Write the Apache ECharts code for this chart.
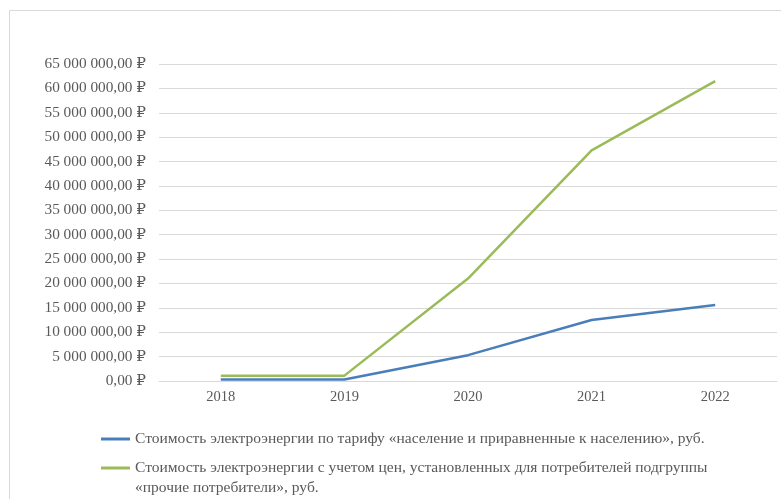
<!DOCTYPE html>
<html>
<head>
<meta charset="utf-8">
<script src="https://cdn.jsdelivr.net/npm/echarts@6/dist/echarts.min.js"></script>
<style>
  html, body { margin: 0; padding: 0; background: #ffffff; }
  #chart { width: 781px; height: 499px; }
</style>
</head>
<body>
<div id="chart"></div>
<script>
// Годы
const years = ['2018', '2019', '2020', '2021', '2022'];

// Стоимость по тарифу «население и приравненные к населению», руб.
const costHousehold = [300000, 300000, 5300000, 12500000, 15600000];

// Стоимость по ценам для подгруппы «прочие потребители», руб.
const costOther = [1100000, 1100000, 21000000, 47300000, 61500000];

const nameHousehold = 'Стоимость электроэнергии по тарифу «население и приравненные к населению», руб.';
const nameOther = 'Стоимость электроэнергии с учетом цен, установленных для потребителей подгруппы «прочие потребители», руб.';
// The legend text is centred on its icon, so an empty leading line keeps
// the first line of the wrapped caption level with the green swatch.
const nameOtherWrapped = ' \nСтоимость электроэнергии с учетом цен, установленных для потребителей подгруппы\n«прочие потребители», руб.';

const FONT = '"Liberation Serif", "Times New Roman", "DejaVu Serif", serif';
const TEXT = '#595959';
const GRID = '#d9d9d9';

function rub(v) {
  const whole = Math.round(v).toString().replace(/\B(?=(\d{3})+(?!\d))/g, ' ');
  return whole + ',00 \u20BD';
}

const chart = echarts.init(document.getElementById('chart'), null, { renderer: 'canvas' });

const legendText = { color: TEXT, fontFamily: FONT, fontSize: 15.5, lineHeight: 20 };

chart.setOption({
  backgroundColor: '#ffffff',
  animation: false,
  graphic: [{
    type: 'rect',
    shape: { x: 9.5, y: 10.5, width: 820, height: 520 },
    style: { fill: 'none', stroke: GRID, lineWidth: 1 },
    silent: true
  }],
  grid: { left: 159, right: 4, top: 64, bottom: 118, containLabel: false },
  xAxis: {
    type: 'category',
    data: years,
    boundaryGap: true,
    axisLine: { show: true, lineStyle: { color: GRID, width: 1 } },
    axisTick: { show: false },
    axisLabel: { color: TEXT, fontFamily: FONT, fontSize: 14.5, margin: 9 }
  },
  yAxis: {
    type: 'value',
    min: 0,
    max: 65000000,
    interval: 5000000,
    axisLine: { show: false },
    axisTick: { show: false },
    splitLine: { lineStyle: { color: GRID, width: 1 } },
    axisLabel: { color: TEXT, fontFamily: FONT, fontSize: 15.3, margin: 13, formatter: rub }
  },
  legend: [{
    left: 101,
    top: 429,
    padding: 0,
    icon: 'rect',
    itemWidth: 29,
    itemHeight: 3,
    itemGap: 0,
    selectedMode: false,
    data: [nameHousehold],
    textStyle: legendText
  }, {
    left: 101,
    top: 438,
    padding: 0,
    icon: 'rect',
    itemWidth: 29,
    itemHeight: 3,
    itemGap: 0,
    selectedMode: false,
    data: [nameOther],
    formatter: () => nameOtherWrapped,
    textStyle: legendText
  }],
  series: [{
    name: nameHousehold,
    type: 'line',
    data: costHousehold,
    symbol: 'none',
    lineStyle: { color: '#4A7EBB', width: 2.5 },
    itemStyle: { color: '#4A7EBB' }
  }, {
    name: nameOther,
    type: 'line',
    data: costOther,
    symbol: 'none',
    lineStyle: { color: '#9BBB59', width: 2.5 },
    itemStyle: { color: '#9BBB59' }
  }]
});
</script>
</body>
</html>
